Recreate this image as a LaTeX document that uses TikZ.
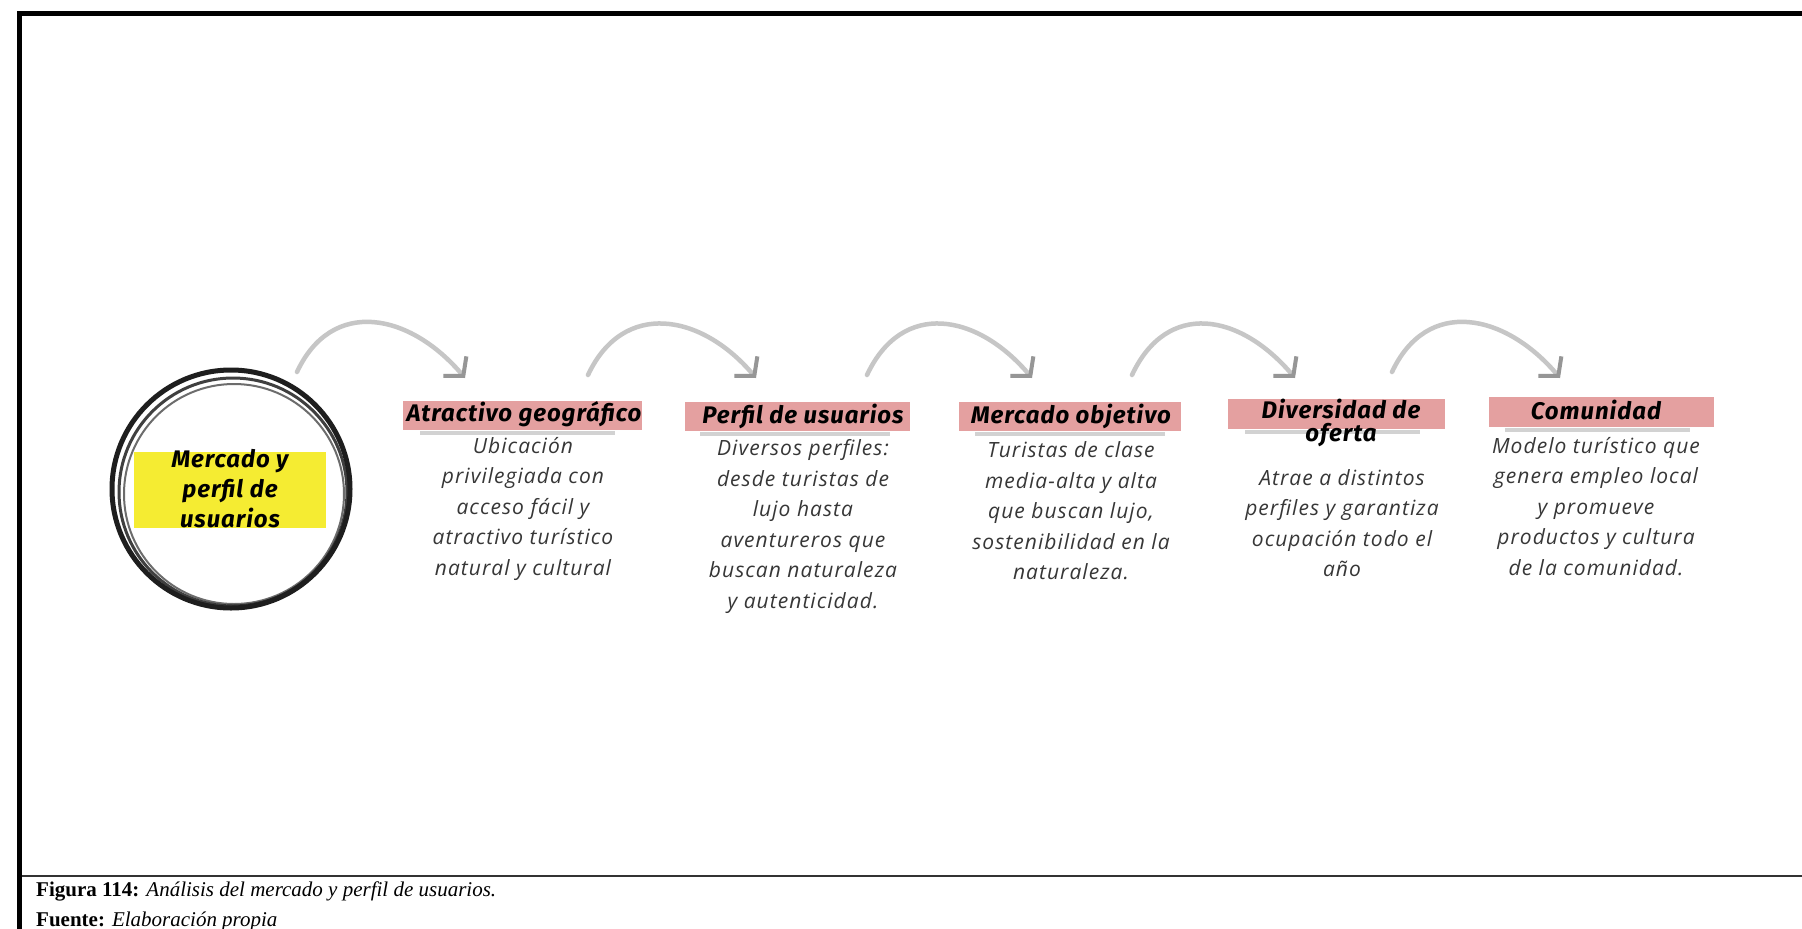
\documentclass[tikz,border=0pt]{standalone}
\usepackage{fontspec}
\setmainfont{Open Sans}
\newfontfamily\bodyfont{Open Sans}[LetterSpace=5.0]
\newfontfamily\headfont{Fira Sans}[LetterSpace=4.0]
\newfontfamily\capfont{Liberation Serif}
\usetikzlibrary{arrows.meta}
\definecolor{bandpink}{RGB}{228,160,160}
\definecolor{streakgray}{RGB}{210,210,210}
\definecolor{hiyellow}{RGB}{245,236,50}
\definecolor{arrowgray}{RGB}{198,198,198}
\definecolor{tipgray}{RGB}{150,150,150}
\definecolor{bodygray}{RGB}{55,55,55}
\definecolor{ringdark}{RGB}{30,30,30}
\begin{document}
\begin{tikzpicture}[x=1pt,y=-1pt,
  headtext/.style={font=\headfont\bfseries\itshape\fontsize{24}{23}\selectfont, align=center, inner sep=0pt, text=black},
  bodytext/.style={font=\bodyfont\itshape\fontsize{21}{30.5}\selectfont, align=center, inner sep=0pt, text=bodygray},
  band/.style={fill=bandpink},
  streak/.style={fill=streakgray},
  flow/.style={draw=arrowgray, line width=4.5pt, line cap=round, -{Straight Barb[length=13pt,width=30pt,line width=4pt,color=tipgray]}},
  ring/.style={draw=ringdark},
  capt/.style={font=\capfont\fontsize{21}{24}\selectfont, anchor=base west, inner sep=0pt}
]
\useasboundingbox (0,0) rectangle (1802,929);
\fill[white] (0,0) rectangle (1802,929);
% frame
\fill[black] (17,11) rectangle (1802,16);
\fill[black] (17,11) rectangle (22,929);
\draw[line width=1.3pt, black!80] (22,876) -- (1802,876);

% hub
\fill[hiyellow] (134,452) rectangle (326,528);
\node[circle, minimum size=244pt, inner sep=0pt] (hub) at (231,489) {};
\draw[ring, line width=5pt] (hub.center) circle[radius=119];
\draw[ring, line width=3pt, draw opacity=0.85] ([shift={(2,3)}]hub.center) circle[radius=114];
\draw[ring, line width=2pt, draw opacity=0.65] ([shift={(3,5)}]hub.center) circle[radius=110];
\node[headtext, font=\headfont\bfseries\itshape\fontsize{24}{30}\selectfont] (hubtxt) at (230,489) {Mercado y\\perfil de\\usuarios};

% bands
\fill[band] (403,401) rectangle (642,430);
\fill[streak] (420,431) rectangle (615,435);
\fill[band] (685,402) rectangle (910,431);
\fill[streak] (700,432) rectangle (890,436);
\fill[band] (959,402) rectangle (1181,431);
\fill[streak] (975,432) rectangle (1165,436);
\fill[band] (1228,399) rectangle (1445,429);
\fill[streak] (1245,430) rectangle (1420,434);
\fill[band] (1489,397) rectangle (1714,427);
\fill[streak] (1505,428) rectangle (1690,432);

% headings
\node[headtext] (h1) at (524,414) {Atractivo geográfico};
\node[headtext] (h2) at (803,416) {Perfil de usuarios};
\node[headtext] (h3) at (1071,416) {Mercado objetivo};
\node[headtext] (h4) at (1341,423) {Diversidad de\\oferta};
\node[headtext] (h5) at (1596,410) {Comunidad};

% bodies
\node[bodytext] (b1) at (523,508.5) {Ubicación\\privilegiada con\\acceso fácil y\\atractivo turístico\\natural y cultural};
\node[bodytext] (b2) at (803,526.5) {Diversos perfiles:\\desde turistas de\\lujo hasta\\aventureros que\\buscan naturaleza\\y autenticidad.};
\node[bodytext] (b3) at (1071,511) {Turistas de clase\\media-alta y alta\\que buscan lujo,\\sostenibilidad en la\\naturaleza.};
\node[bodytext] (b4) at (1342,523) {Atrae a distintos\\perfiles y garantiza\\ocupación todo el\\año};
\node[bodytext] (b5) at (1596,506.5) {Modelo turístico que\\genera empleo local\\y promueve\\productos y cultura\\de la comunidad.};

% arrows
\coordinate (s1) at (297,372); \coordinate (t1) at (465,378);
\coordinate (s2) at (588,375); \coordinate (t2) at (756,378);
\coordinate (s3) at (867,375); \coordinate (t3) at (1032,378);
\coordinate (s4) at (1132,375); \coordinate (t4) at (1295,378);
\coordinate (s5) at (1392,372); \coordinate (t5) at (1560,378);
\foreach \i in {1,...,5}{
  \draw[flow] (s\i) .. controls +(35,-75) and +(-55,-65) .. (t\i);
}

% caption
\node[capt] (cap1) at (36,896) {\textbf{Figura 114:} \textit{Análisis del mercado y perfil de usuarios.}};
\node[capt] (cap2) at (36,926) {\textbf{Fuente:} \textit{Elaboración propia}};
\end{tikzpicture}
\end{document}
